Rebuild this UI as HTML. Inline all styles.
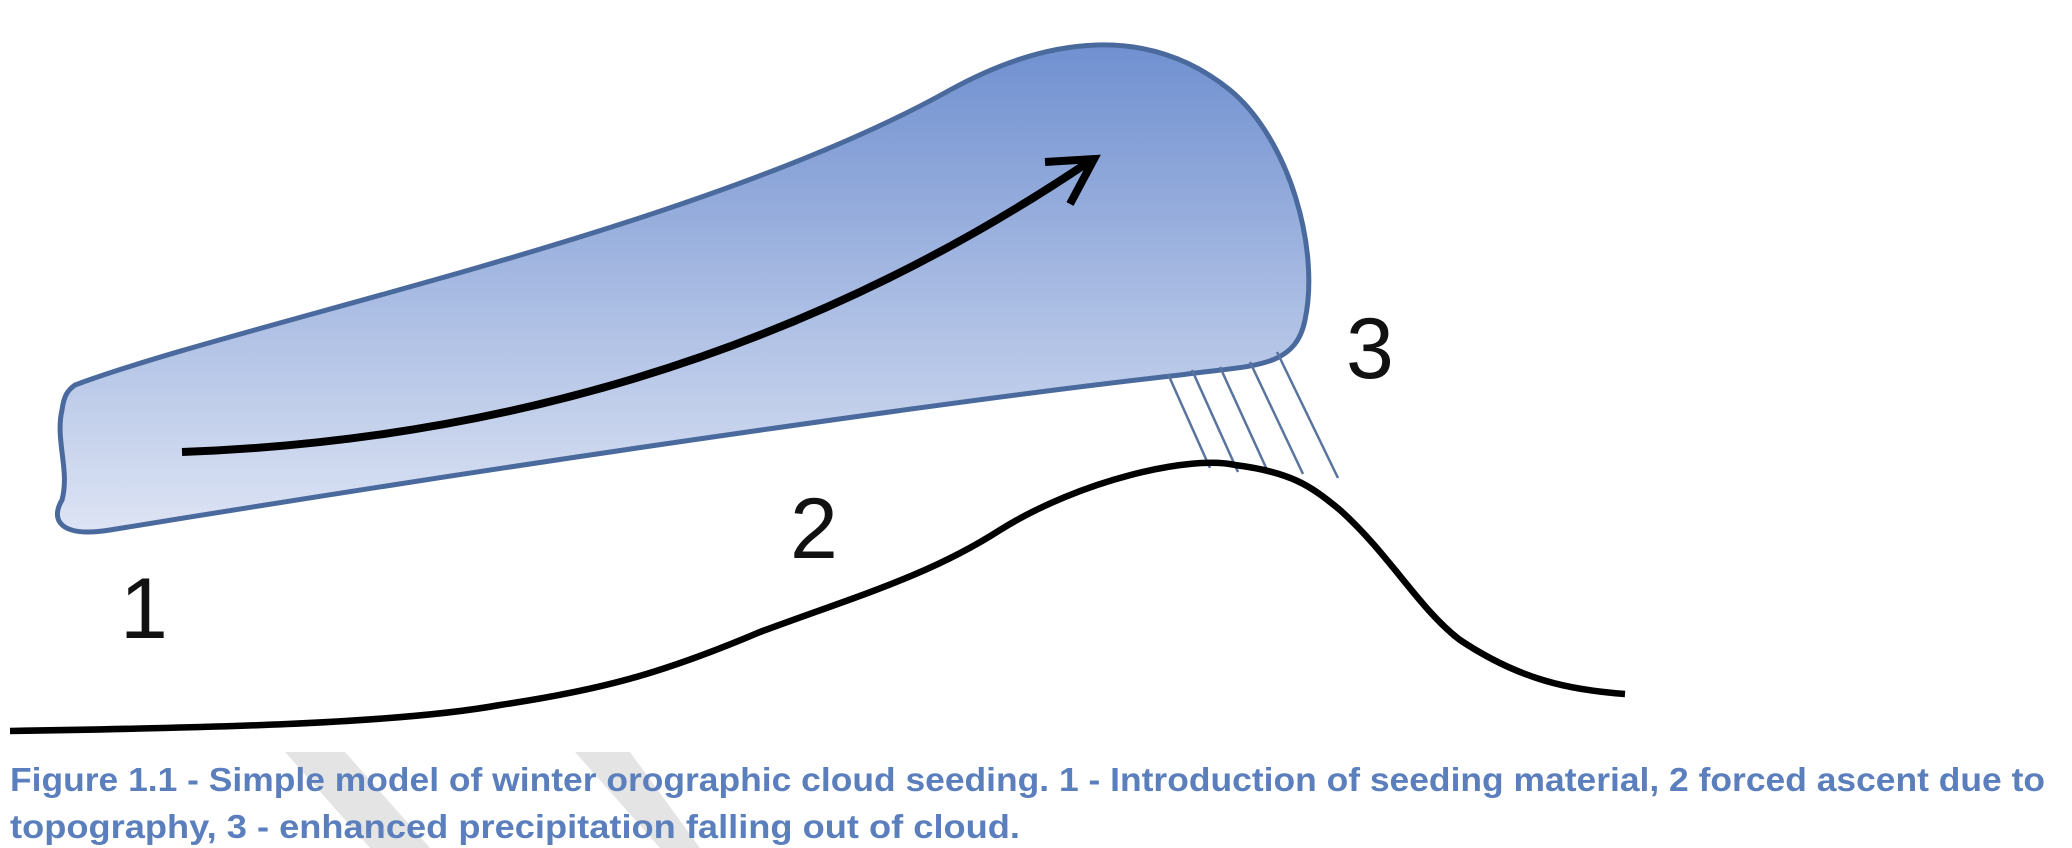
<!DOCTYPE html>
<html><head><style>html,body{margin:0;padding:0;background:#fff}svg{display:block}</style></head>
<body>
<svg width="2072" height="848" viewBox="0 0 2072 848" xmlns="http://www.w3.org/2000/svg">
<defs>
<linearGradient id="g" x1="0" y1="0" x2="0" y2="1">
<stop offset="0" stop-color="#7090d0"/>
<stop offset="1" stop-color="#dde4f4"/>
</linearGradient>
</defs>
<polygon points="285,752 345,752 430,848 370,848" fill="#e4e4e4"/>
<polygon points="575,752 630,752 700,848 660,848" fill="#e4e4e4"/>
<path d="M 75 385 C 250 320, 700 230, 950 90 C 1050 35, 1150 25, 1230 90 C 1290 140, 1320 250, 1305 320 C 1295 370, 1250 365, 1180 375 C 1000 395, 600 450, 110 530 C 60 538, 50 520, 62 500 C 70 470, 55 440, 62 410 C 64 395, 68 390, 75 385 Z" fill="url(#g)" stroke="#4a6a9e" stroke-width="5"/>
<g stroke="#5a74a0" stroke-width="2.5">
<line x1="1168" y1="374" x2="1210" y2="468"/>
<line x1="1192" y1="370" x2="1238" y2="472"/>
<line x1="1220" y1="367" x2="1268" y2="472"/>
<line x1="1250" y1="362" x2="1303" y2="474"/>
<line x1="1277" y1="352" x2="1338" y2="478"/>
</g>
<path d="M 182 452 Q 686 434 1090 161" fill="none" stroke="#000" stroke-width="8"/>
<path d="M 1045 162 L 1094 159 L 1070 204" fill="none" stroke="#000" stroke-width="8" stroke-linejoin="miter"/>
<path d="M 10 731 C 200 728, 396 724, 500 705 C 600 690, 661 674, 760 632 C 860 595, 930 575, 1000 530 C 1080 480, 1190 455, 1235 465 C 1290 472, 1310 485, 1340 510 C 1390 555, 1420 610, 1460 640 C 1520 680, 1570 690, 1625 694" fill="none" stroke="#000" stroke-width="6.5"/>
<g font-family="Liberation Sans, sans-serif" font-size="86" fill="#111">
<text x="120" y="638">1</text>
<text x="790" y="558">2</text>
<text x="1346" y="378">3</text>
</g>
<g font-family="Liberation Sans Narrow, Liberation Sans, sans-serif" font-weight="bold" font-size="33" fill="#5b7fbd">
<text x="10" y="791" textLength="2035" lengthAdjust="spacingAndGlyphs">Figure 1.1 - Simple model of winter orographic cloud seeding. 1 - Introduction of seeding material, 2 forced ascent due to</text>
<text x="10" y="838" textLength="1010" lengthAdjust="spacingAndGlyphs">topography, 3 - enhanced precipitation falling out of cloud.</text>
</g>
</svg>
</body></html>
